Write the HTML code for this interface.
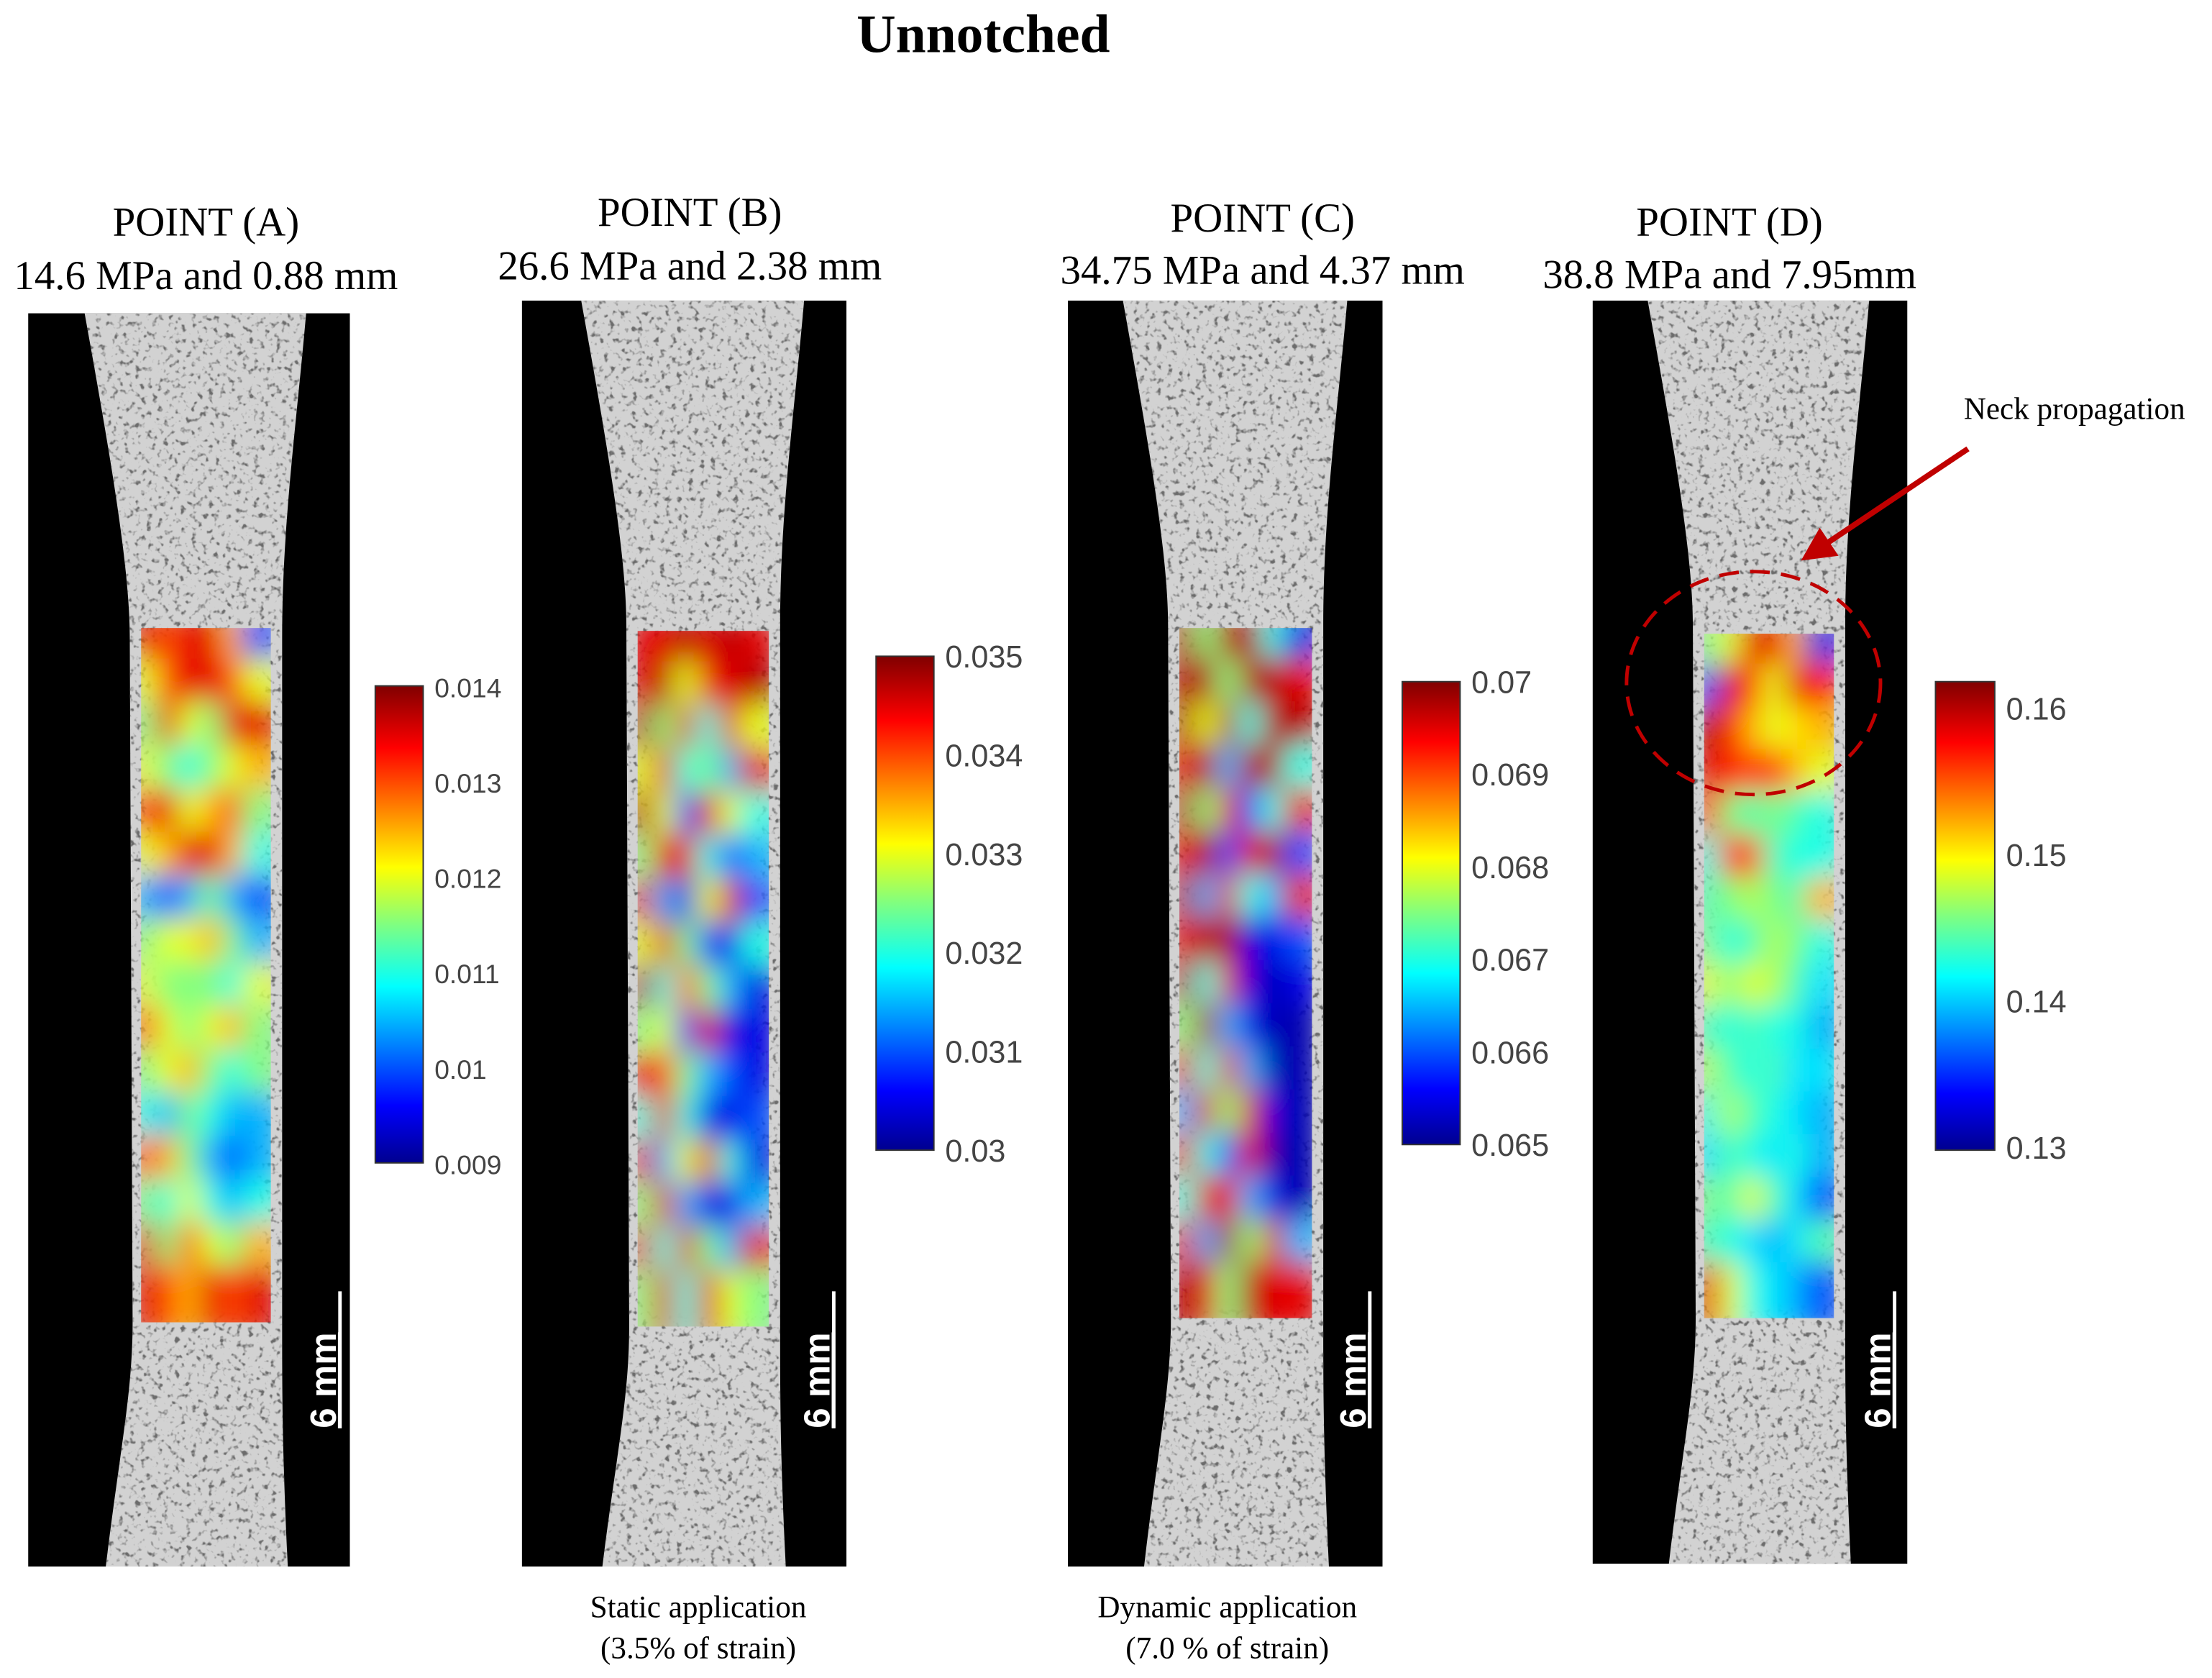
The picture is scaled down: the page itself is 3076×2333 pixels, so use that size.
<!DOCTYPE html>
<html><head><meta charset="utf-8"><style>
html,body{margin:0;padding:0;background:#fff}
svg{display:block}
</style></head><body>
<svg id="fig" xmlns="http://www.w3.org/2000/svg" width="3076" height="2333" viewBox="0 0 1568 1189" preserveAspectRatio="none">
<defs>
<filter id="speckle" x="0" y="0" width="100%" height="100%">
<feTurbulence type="fractalNoise" baseFrequency="0.25" numOctaves="2" seed="3" result="n"/>
<feColorMatrix in="n" type="matrix" values="0 0 0 0 0.15  0 0 0 0 0.15  0 0 0 0 0.15  0 0 0 -5 2.2" result="dots"/>
<feComposite in="dots" in2="SourceGraphic" operator="in" result="d2"/>
<feMerge><feMergeNode in="SourceGraphic"/><feMergeNode in="d2"/></feMerge>
</filter>
<filter id="blur" x="-5%" y="-5%" width="110%" height="110%"><feGaussianBlur stdDeviation="10"/></filter>
<linearGradient id="jet" x1="0" y1="1" x2="0" y2="0">
<stop offset="0" stop-color="#00008f"/><stop offset="0.12" stop-color="#0000ff"/>
<stop offset="0.37" stop-color="#00ffff"/><stop offset="0.5" stop-color="#80ff80"/>
<stop offset="0.62" stop-color="#ffff00"/><stop offset="0.87" stop-color="#ff0000"/>
<stop offset="1" stop-color="#800000"/></linearGradient>
<marker id="arrowhead" markerWidth="6" markerHeight="6" refX="5" refY="3" orient="auto"><path d="M0,0 L6,3 L0,6 z" fill="#c00000"/></marker>
</defs>
<text x="697" y="37" text-anchor="middle" font-family="Liberation Serif, serif" font-weight="bold" font-size="38.5">Unnotched</text>
<g id="panels"></g>
<text x="1392" y="297" font-family="Liberation Serif, serif" font-size="22">Neck propagation</text>
<line x1="1395" y1="318" x2="1280" y2="395" stroke="#c00000" stroke-width="4" marker-end="url(#arrowhead)"/>
<ellipse cx="1243" cy="484" rx="90" ry="79" fill="none" stroke="#c00000" stroke-width="2.5" stroke-dasharray="14,8"/>
<g font-family="Liberation Serif, serif" font-size="22" text-anchor="middle">
<text x="495" y="1146">Static application</text>
<text x="495" y="1175">(3.5% of strain)</text>
<text x="870" y="1146">Dynamic application</text>
<text x="870" y="1175">(7.0 % of strain)</text>
</g>
</svg>
<script>
// normalized strain maps (0 = colorbar min, 1 = colorbar max), 6 cols x 16 rows
const strainA = [
[0.9,0.8,0.9,0.9,0.7,0.2],[0.6,0.8,0.9,0.9,0.8,0.6],[0.5,0.9,0.6,0.5,0.9,0.9],[0.6,0.5,0.4,0.5,0.6,0.7],
[0.8,0.9,0.6,0.7,0.8,0.5],[0.6,0.7,0.9,0.9,0.7,0.4],[0.3,0.2,0.3,0.5,0.3,0.2],[0.5,0.6,0.6,0.7,0.5,0.3],
[0.6,0.5,0.5,0.5,0.4,0.6],[0.8,0.6,0.5,0.6,0.7,0.5],[0.5,0.6,0.7,0.5,0.4,0.5],[0.4,0.3,0.5,0.4,0.3,0.3],
[0.8,0.7,0.5,0.3,0.2,0.3],[0.5,0.4,0.6,0.4,0.3,0.4],[0.9,0.5,0.8,0.6,0.5,0.7],[0.9,0.8,0.7,0.9,0.8,0.9]];
const strainB = [
[0.9,0.9,0.95,0.9,0.95,0.9],[0.9,0.95,0.6,0.9,0.9,0.95],[0.95,0.5,0.9,0.4,0.9,0.6],[0.6,0.9,0.4,0.5,0.3,0.9],
[0.95,0.6,0.2,0.9,0.6,0.4],[0.5,0.9,0.9,0.4,0.2,0.3],[0.9,0.3,0.1,0.6,0.9,0.2],[0.6,0.9,0.5,0.2,0.1,0.4],
[0.95,0.4,0.8,0.5,0.3,0.1],[0.5,0.6,0.2,0.9,0.1,0.1],[0.9,0.8,0.5,0.3,0.2,0.1],[0.4,0.9,0.4,0.1,0.1,0.2],
[0.9,0.3,0.6,0.9,0.4,0.1],[0.5,0.9,0.3,0.1,0.1,0.3],[0.9,0.4,0.9,0.5,0.3,0.9],[0.5,0.9,0.4,0.9,0.6,0.5]];
const strainC = [
[0.95,0.5,0.95,0.95,0.4,0.1],[0.95,0.95,0.5,0.95,0.95,0.9],[0.95,0.6,0.95,0.4,0.95,0.95],[0.9,0.95,0.3,0.95,0.95,0.4],
[0.95,0.5,0.9,0.2,0.4,0.9],[0.9,0.95,0.2,0.9,0.95,0.2],[0.95,0.3,0.9,0.4,0.3,0.9],[0.9,0.95,0.95,0.1,0.1,0.2],
[0.95,0.4,0.9,0.1,0.05,0.1],[0.5,0.95,0.3,0.1,0.05,0.05],[0.9,0.4,0.9,0.3,0.05,0.05],[0.3,0.9,0.5,0.9,0.1,0.05],
[0.9,0.4,0.2,0.9,0.05,0.05],[0.4,0.9,0.9,0.3,0.1,0.05],[0.9,0.3,0.95,0.5,0.9,0.3],[0.95,0.9,0.5,0.95,0.9,0.9]];
const strainD = [
[0.5,0.6,0.9,0.9,0.7,0.1],[0.2,0.9,0.85,0.6,0.9,0.85],[0.95,0.85,0.7,0.6,0.65,0.7],[0.9,0.85,0.8,0.85,0.7,0.6],
[0.85,0.5,0.45,0.5,0.45,0.4],[0.4,0.85,0.8,0.45,0.4,0.4],[0.45,0.5,0.55,0.5,0.45,0.7],[0.5,0.4,0.45,0.55,0.5,0.4],
[0.6,0.5,0.6,0.55,0.45,0.35],[0.45,0.4,0.45,0.4,0.4,0.3],[0.55,0.45,0.4,0.45,0.35,0.35],[0.4,0.55,0.45,0.4,0.35,0.3],
[0.35,0.45,0.4,0.35,0.4,0.3],[0.5,0.45,0.6,0.45,0.35,0.2],[0.45,0.4,0.35,0.3,0.35,0.45],[0.9,0.6,0.4,0.35,0.3,0.2]];
const ticksA = ["0.014","0.013","0.012","0.011","0.01","0.009"];
const ticksB = ["0.035","0.034","0.033","0.032","0.031","0.03"];
const ticksC = ["0.07","0.069","0.068","0.067","0.066","0.065"];
const ticksD = ["0.16","0.15","0.14","0.13"];
const headings = [["POINT (A)","14.6 MPa and 0.88 mm"],["POINT (B)","26.6 MPa and 2.38 mm"],["POINT (C)","34.75 MPa and 4.37 mm"],["POINT (D)","38.8 MPa and 7.95mm"]];

const layout = [
 {id:'a',bx0:20,bx1:248,by0:222,by1:1110,L:100,R:192,T:445,B:937,cx0:266,cx1:300,cy0:486,cy1:824,hc:146,h1:167,h2:205,sx:232,data:strainA,ticks:ticksA,ty0:486,ty1:824},
 {id:'b',bx0:370,bx1:600,by0:213,by1:1110,L:452,R:545,T:447,B:940,cx0:621,cx1:662,cy0:465,cy1:815,hc:489,h1:160,h2:198,sx:582,data:strainB,ticks:ticksB,ty0:465,ty1:815},
 {id:'c',bx0:757,bx1:980,by0:213,by1:1110,L:836,R:930,T:445,B:934,cx0:994,cx1:1035,cy0:483,cy1:811,hc:895,h1:164,h2:201,sx:962,data:strainC,ticks:ticksC,ty0:483,ty1:811},
 {id:'d',bx0:1129,bx1:1352,by0:213,by1:1108,L:1208,R:1300,T:449,B:934,cx0:1372,cx1:1414,cy0:483,cy1:815,hc:1226,h1:167,h2:204,sx:1334,data:strainD,ticks:ticksD,ty0:502,ty1:813}
];
const NS='http://www.w3.org/2000/svg';
function mk(tag,attrs,parent){const e=document.createElementNS(NS,tag);for(const k in attrs)e.setAttribute(k,attrs[k]);parent.appendChild(e);return e;}
function jet(v){v=Math.max(0,Math.min(1,v));
 const r=Math.max(0,Math.min(1,1.5-Math.abs(4*v-3))),g=Math.max(0,Math.min(1,1.5-Math.abs(4*v-2))),b=Math.max(0,Math.min(1,1.5-Math.abs(4*v-1)));
 return `rgb(${Math.round(r*255)},${Math.round(g*255)},${Math.round(b*255)})`;}
const root=document.getElementById('panels');
layout.forEach((p,i)=>{
 const g=mk('g',{},root);
 
 
 const h1=mk('text',{x:p.hc,y:p.h1,'text-anchor':'middle','font-family':'Liberation Serif, serif','font-size':29},g);
 h1.textContent=headings[i][0];
 
 
 const h2=mk('text',{x:p.hc,y:p.h2,'text-anchor':'middle','font-family':'Liberation Serif, serif','font-size':29},g);
 h2.textContent=headings[i][1];
 
 
 const bg=mk('rect',{x:p.bx0,y:p.by0,width:p.bx1-p.bx0,height:p.by1-p.by0,fill:'#000'},g);
 
 
 const L=p.L,R=p.R,y0=p.by0,y1=p.by1;
 const d=`M${L-40},${y0} C${L-22},${y0+100} ${L-8},${y0+180} ${L-8},${y0+230} L${L-6},${p.B} C${L-6},${p.B+50} ${L-15},${p.B+90} ${L-25},${y1} L${R+12},${y1} C${R+8},${p.B+90} ${R+8},${p.B+50} ${R+8},${p.B} L${R+8},${y0+230} C${R+8},${y0+150} ${R+18},${y0+80} ${R+25},${y0} Z`;
 const sp=mk('path',{d:d,fill:'#d2d2d2',filter:'url(#speckle)'},g);
 
 
 const clipId='clip'+p.id;
 const cp=mk('clipPath',{id:clipId},g);
 mk('rect',{x:L,y:p.T,width:R-L,height:p.B-p.T},cp);
 const hm=mk('g',{'clip-path':`url(#${clipId})`},g);
 
 
 const inner=mk('g',{filter:'url(#blur)'},hm);
 const rows=p.data.length,cols=p.data[0].length;
 const cw=(R-L)/cols,ch=(p.B-p.T)/rows;
 p.data.forEach((row,ri)=>row.forEach((v,ci)=>{
  const c=mk('rect',{x:L+ci*cw-cw*0.3,y:p.T+ri*ch-ch*0.3,width:cw*1.6,height:ch*1.6,fill:jet(v)},inner);
  
  
 }));
 const cb=mk('rect',{x:p.cx0,y:p.cy0,width:p.cx1-p.cx0,height:p.cy1-p.cy0,fill:'url(#jet)',stroke:'#333','stroke-width':1},g);
 
 
 const n=p.ticks.length;
 p.ticks.forEach((t,k)=>{
  const yy=p.ty0+(p.ty1-p.ty0)*k/(n-1);
  const tx=mk('text',{x:p.cx1+8,y:yy+8,'font-family':'Liberation Sans, sans-serif','font-size':i==0?19:22,fill:'#444'},g);
  tx.textContent=t;
  
  
 });
 const sc=mk('text',{x:0,y:0,transform:`translate(${p.sx+6},${1012}) rotate(-90)`,'font-family':'Liberation Sans, sans-serif','font-weight':'bold','font-size':26,fill:'#fff','text-decoration':'underline'},g);
 sc.textContent='6 mm';
 
 
 const sl=mk('line',{x1:p.sx+9,y1:915,x2:p.sx+9,y2:1012,stroke:'#fff','stroke-width':2.5},g);
 
 
});
</script>
</body></html>
